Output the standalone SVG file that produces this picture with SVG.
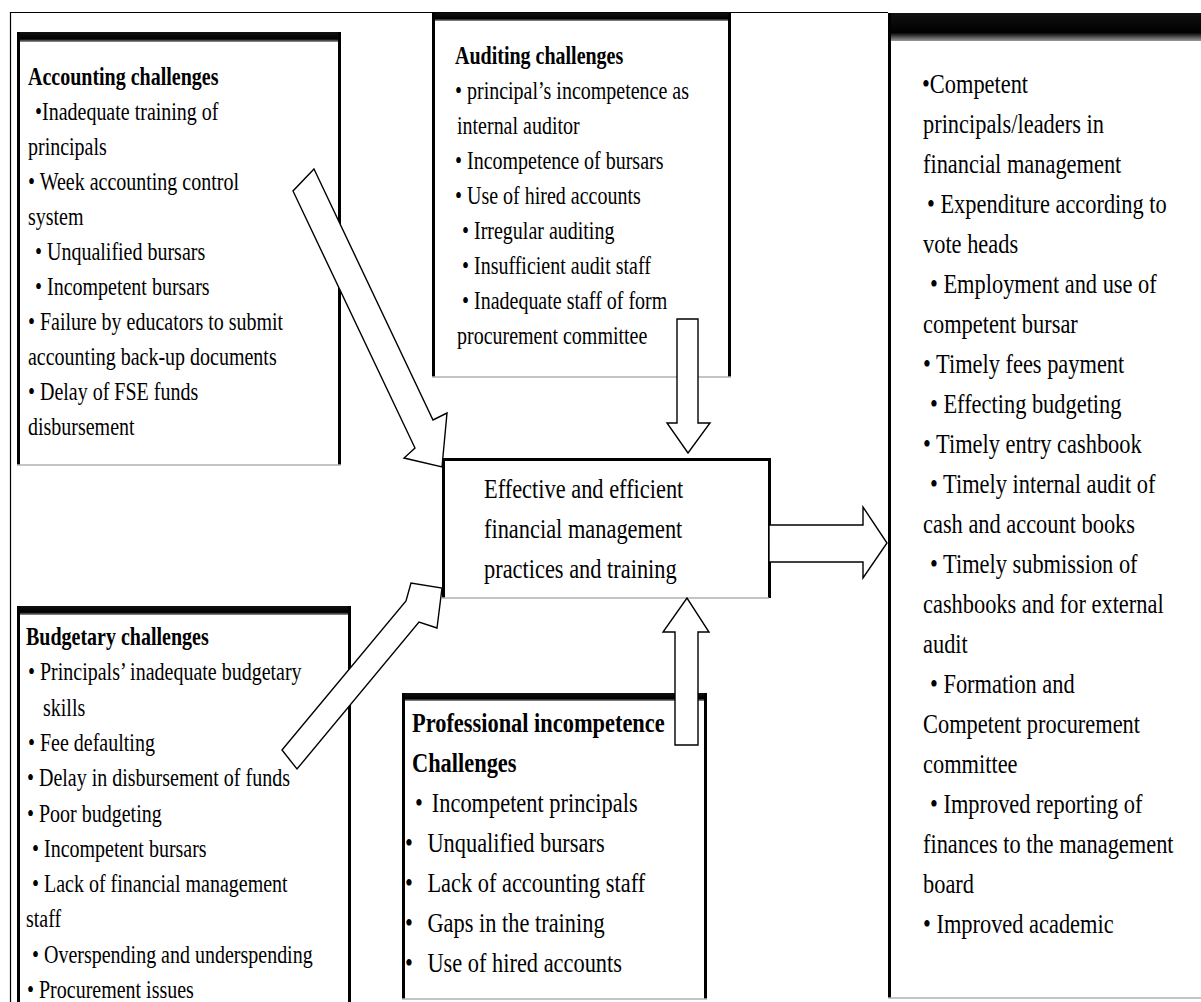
<svg xmlns="http://www.w3.org/2000/svg" width="1201" height="1002" viewBox="0 0 1201 1002">
  <defs>
    <linearGradient id="barShade" x1="0" y1="0" x2="0" y2="1">
      <stop offset="0" stop-color="#111"/>
      <stop offset="0.7" stop-color="#000"/>
      <stop offset="1" stop-color="#9a9a9a"/>
    </linearGradient>
    <style>
      .panel{fill:#fff}
      .side{stroke:#000;stroke-width:3;fill:none}
      .base{stroke:#b0b0b0;stroke-width:1.5;fill:none}
      .frame{stroke:#000;stroke-width:1.2;fill:none}
      .bar{fill:url(#barShade)}
      text{font-family:"Liberation Serif","Times New Roman",serif;fill:#000}
      .s{font-size:25px}
      .m{font-size:28px}
      .b{font-weight:bold}
      .arrow{fill:#fff;stroke:#000;stroke-width:1.4;stroke-linejoin:miter}
    </style>
  </defs>

  <rect width="1201" height="1002" fill="#fff"/>

  <!-- outer frame -->
  <path class="frame" d="M10.5 1002 V12.5 H888"/>

  <!-- accounting challenges -->
  <g id="accounting">
    <rect class="panel" x="17" y="32" width="324" height="433"/>
    <rect class="bar" x="17" y="32" width="324" height="10"/>
    <path class="side" d="M18.5 32 V465 M339.5 32 V465"/>
    <path class="base" d="M17 465 H341"/>
    <text class="s b" transform="translate(28 85) scale(.8 1)">Accounting challenges</text>
    <text class="s" transform="translate(35 120) scale(.8 1)">•Inadequate training of</text>
    <text class="s" transform="translate(28 155) scale(.8 1)">principals</text>
    <text class="s" transform="translate(28 190) scale(.8 1)">• Week accounting control</text>
    <text class="s" transform="translate(28 225) scale(.8 1)">system</text>
    <text class="s" transform="translate(35 260) scale(.8 1)">• Unqualified bursars</text>
    <text class="s" transform="translate(35 295) scale(.8 1)">• Incompetent bursars</text>
    <text class="s" transform="translate(28 330) scale(.8 1)">• Failure by educators to submit</text>
    <text class="s" transform="translate(28 365) scale(.8 1)">accounting back-up documents</text>
    <text class="s" transform="translate(28 400) scale(.8 1)">• Delay of FSE funds</text>
    <text class="s" transform="translate(28 435) scale(.8 1)">disbursement</text>
  </g>

  <!-- auditing challenges -->
  <g id="auditing">
    <rect class="panel" x="432" y="13" width="299" height="364"/>
    <rect class="bar" x="432" y="13" width="299" height="8"/>
    <path class="side" d="M433.5 13 V377 M729.5 13 V377"/>
    <path class="base" d="M432 377 H731"/>
    <text class="s b" transform="translate(455 64) scale(.8 1)">Auditing challenges</text>
    <text class="s" transform="translate(455 99) scale(.8 1)">• principal’s incompetence as</text>
    <text class="s" transform="translate(457 134) scale(.8 1)">internal auditor</text>
    <text class="s" transform="translate(455 169) scale(.8 1)">• Incompetence of bursars</text>
    <text class="s" transform="translate(455 204) scale(.8 1)">• Use of hired accounts</text>
    <text class="s" transform="translate(462 239) scale(.8 1)">• Irregular auditing</text>
    <text class="s" transform="translate(462 274) scale(.8 1)">• Insufficient audit staff</text>
    <text class="s" transform="translate(462 309) scale(.8 1)">• Inadequate staff of form</text>
    <text class="s" transform="translate(457 344) scale(.8 1)">procurement committee</text>
  </g>

  <!-- outcomes -->
  <g id="outcomes">
    <rect class="panel" x="888" y="13" width="330" height="985"/>
    <rect class="bar" x="888" y="13" width="330" height="28"/>
    <path class="side" d="M889.5 13 V998"/>
    <path class="base" d="M888 998 H1201"/>
    <text class="m" transform="translate(922 93) scale(.8 1)">•Competent</text>
    <text class="m" transform="translate(923 133) scale(.8 1)">principals/leaders in</text>
    <text class="m" transform="translate(923 173) scale(.8 1)">financial management</text>
    <text class="m" transform="translate(927 213) scale(.8 1)">• Expenditure according to</text>
    <text class="m" transform="translate(923 253) scale(.8 1)">vote heads</text>
    <text class="m" transform="translate(930 293) scale(.8 1)">• Employment and use of</text>
    <text class="m" transform="translate(923 333) scale(.8 1)">competent bursar</text>
    <text class="m" transform="translate(923 373) scale(.8 1)">• Timely fees payment</text>
    <text class="m" transform="translate(930 413) scale(.8 1)">• Effecting budgeting</text>
    <text class="m" transform="translate(923 453) scale(.8 1)">• Timely entry cashbook</text>
    <text class="m" transform="translate(930 493) scale(.8 1)">• Timely internal audit of</text>
    <text class="m" transform="translate(923 533) scale(.8 1)">cash and account books</text>
    <text class="m" transform="translate(930 573) scale(.8 1)">• Timely submission of</text>
    <text class="m" transform="translate(923 613) scale(.8 1)">cashbooks and for external</text>
    <text class="m" transform="translate(923 653) scale(.8 1)">audit</text>
    <text class="m" transform="translate(930 693) scale(.8 1)">• Formation and</text>
    <text class="m" transform="translate(923 733) scale(.8 1)">Competent procurement</text>
    <text class="m" transform="translate(923 773) scale(.8 1)">committee</text>
    <text class="m" transform="translate(930 813) scale(.8 1)">• Improved reporting of</text>
    <text class="m" transform="translate(923 853) scale(.8 1)">finances to the management</text>
    <text class="m" transform="translate(923 893) scale(.8 1)">board</text>
    <text class="m" transform="translate(923 933) scale(.8 1)">• Improved academic</text>
  </g>

  <!-- central practice box -->
  <g id="practices">
    <rect class="panel" x="442" y="458" width="326" height="140"/>
    <path class="side" d="M442 459.5 H769.5 V598 M443.5 458 V598"/>
    <path class="base" d="M442 598 H769"/>
    <text class="m" transform="translate(484 498) scale(.8 1)">Effective and efficient</text>
    <text class="m" transform="translate(484 538) scale(.8 1)">financial management</text>
    <text class="m" transform="translate(484 578) scale(.8 1)">practices and training</text>
  </g>

  <!-- budgetary challenges -->
  <g id="budgetary">
    <rect class="panel" x="17" y="606" width="334" height="400"/>
    <rect class="bar" x="17" y="606" width="334" height="9"/>
    <path class="side" d="M18.5 606 V1002 M349.5 606 V1002"/>
    <text class="s b" transform="translate(26 645) scale(.8 1)">Budgetary challenges</text>
    <text class="s" transform="translate(28 680) scale(.8 1)">• Principals’ inadequate budgetary</text>
    <text class="s" transform="translate(43 716) scale(.8 1)">skills</text>
    <text class="s" transform="translate(28 751) scale(.8 1)">• Fee defaulting</text>
    <text class="s" transform="translate(27 786) scale(.8 1)">• Delay in disbursement of funds</text>
    <text class="s" transform="translate(27 822) scale(.8 1)">• Poor budgeting</text>
    <text class="s" transform="translate(32 857) scale(.8 1)">• Incompetent bursars</text>
    <text class="s" transform="translate(32 892) scale(.8 1)">• Lack of financial management</text>
    <text class="s" transform="translate(26 927) scale(.8 1)">staff</text>
    <text class="s" transform="translate(32 963) scale(.8 1)">• Overspending and underspending</text>
    <text class="s" transform="translate(27 998) scale(.8 1)">• Procurement issues</text>
  </g>

  <!-- professional incompetence challenges -->
  <g id="professional">
    <rect class="panel" x="402" y="693" width="305" height="306"/>
    <rect class="bar" x="402" y="693" width="305" height="8"/>
    <path class="side" d="M403.5 693 V999 M705.5 693 V999"/>
    <path class="base" d="M402 999 H707"/>
    <text class="m b" transform="translate(412 732) scale(.8 1)">Professional incompetence</text>
    <text class="m b" transform="translate(412 772) scale(.8 1)">Challenges</text>
    <text class="m" transform="translate(415 812) scale(.8 1)">•<tspan x="21">Incompetent principals</tspan></text>
    <text class="m" transform="translate(405 852) scale(.8 1)">•<tspan x="28">Unqualified bursars</tspan></text>
    <text class="m" transform="translate(405 892) scale(.8 1)">•<tspan x="28">Lack of accounting staff</tspan></text>
    <text class="m" transform="translate(405 932) scale(.8 1)">•<tspan x="28">Gaps in the training</tspan></text>
    <text class="m" transform="translate(405 972) scale(.8 1)">•<tspan x="28">Use of hired accounts</tspan></text>
  </g>

  <!-- block arrows -->
  <g id="connectors">
    <polygon class="arrow" points="314,169 433,420 447,413 442,467 404,458 415,448 293,191"/>
    <polygon class="arrow" points="282,750 406,601 411,583 442,588 437,628 419,622 297,769"/>
    <polygon class="arrow" points="677,319 698,319 698,423 710,423 688,453 667,423 677,423"/>
    <polygon class="arrow" points="675,745 698,745 698,632 709,632 687,598 663,632 675,632"/>
    <polygon class="arrow" points="769,525 863,525 863,507 887,543 863,578 863,562 769,562"/>
  </g>
</svg>
